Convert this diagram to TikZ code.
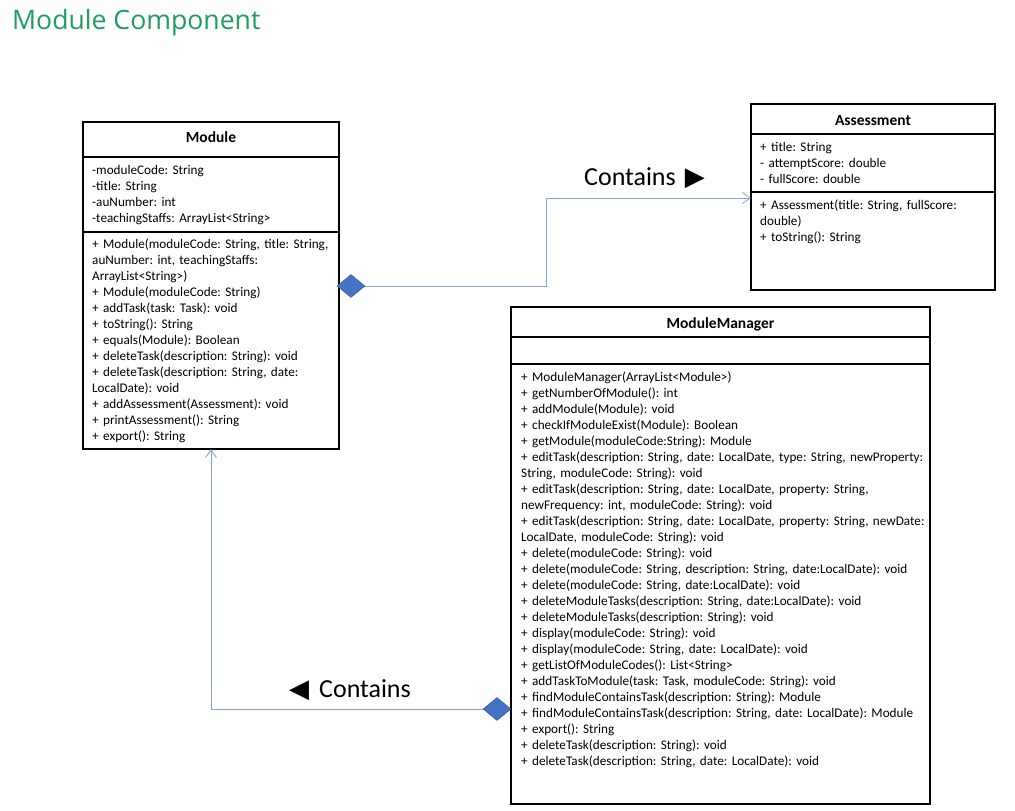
\documentclass[tikz,border=0pt]{standalone}
\usepackage{fontspec}
\setmainfont{Carlito}
\newfontfamily\headfont{Open Sans}
\newfontfamily\symfont{DejaVu Sans}
\usetikzlibrary{shapes.geometric,arrows.meta}
\definecolor{hdgreen}{RGB}{29,158,96}
\definecolor{conncol}{RGB}{130,160,218}
\definecolor{diafill}{RGB}{68,114,196}
\definecolor{diaedge}{RGB}{47,82,143}
\newcommand{\bodyfont}{\fontsize{13.2}{16}\selectfont\frenchspacing}
\begin{document}
\begin{tikzpicture}[x=1pt,y=-1pt,
 box/.style={draw, line width=1.1pt, anchor=north west, inner sep=0pt, outer sep=0pt},
 ttl/.style={anchor=base, inner sep=0pt, font=\fontsize{15.5}{17}\selectfont\bfseries},
 txt/.style={anchor=north west, inner sep=0pt, align=left, text width=420pt, font=\bodyfont},
 conn/.style={draw=conncol, line width=0.8pt},
 tip/.style={-{Straight Barb[length=8pt,width=11pt,line width=0.8pt]}},
 dia/.style={diamond, fill=diafill, draw=diaedge, line width=0.4pt, minimum width=28pt, minimum height=23pt, inner sep=0pt},
 rel/.style={anchor=base west, inner sep=0pt, font=\fontsize{26}{28}\selectfont},
]
\useasboundingbox[fill=white] (0,0) rectangle (1015,811);
\node[anchor=base west, inner sep=0pt, text=hdgreen, font=\headfont\fontsize{26.6}{30}\selectfont] (head) at (12,29) {Module Component};

% Module
\node[box, minimum width=256pt, minimum height=35pt] (modT) at (83,122) {};
\node[box, minimum width=256pt, minimum height=75pt] (modA) at (83,157) {};
\node[box, minimum width=256pt, minimum height=217pt] (modM) at (83,232) {};
\node[ttl] (modTt) at (211,142) {Module};
\node[txt] (modAt) at (92,162.8) {\strut -moduleCode: String\\-title: String\\-auNumber: int\\-teachingStaffs: ArrayList<String>};
\node[txt] (modMt) at (92,236.8) {\strut + Module(moduleCode: String, title: String,\\auNumber: int, teachingStaffs:\\ArrayList<String>)\\+ Module(moduleCode: String)\\+ addTask(task: Task): void\\+ toString(): String\\+ equals(Module): Boolean\\+ deleteTask(description: String): void\\+ deleteTask(description: String, date:\\LocalDate): void\\+ addAssessment(Assessment): void\\+ printAssessment(): String\\+ export(): String};

% Assessment
\node[box, minimum width=244pt, minimum height=30pt] (asT) at (751,104) {};
\node[box, minimum width=244pt, minimum height=58pt] (asA) at (751,134) {};
\node[box, minimum width=244pt, minimum height=98pt] (asM) at (751,192) {};
\node[ttl] (asTt) at (873,125) {Assessment};
\node[txt] (asAt) at (760,139.8) {\strut + title: String\\- attemptScore: double\\- fullScore: double};
\node[txt] (asMt) at (760,197.8) {\strut + Assessment(title: String, fullScore:\\double)\\+ toString(): String};

% ModuleManager
\node[box, minimum width=419pt, minimum height=30pt] (mmT) at (511,307) {};
\node[box, minimum width=419pt, minimum height=27pt] (mmA) at (511,337) {};
\node[box, minimum width=419pt, minimum height=440pt] (mmM) at (511,364) {};
\node[ttl] (mmTt) at (720.5,328.5) {ModuleManager};
\node[txt] (mmMt) at (521,369.8) {\strut + ModuleManager(ArrayList<Module>)\\
+ getNumberOfModule(): int\\
+ addModule(Module): void\\
+ checkIfModuleExist(Module): Boolean\\
+ getModule(moduleCode:String): Module\\
+ editTask(description: String, date: LocalDate, type: String, newProperty:\\
String, moduleCode: String): void\\
+ editTask(description: String, date: LocalDate, property: String,\\
newFrequency: int, moduleCode: String): void\\
+ editTask(description: String, date: LocalDate, property: String, newDate:\\
LocalDate, moduleCode: String): void\\
+ delete(moduleCode: String): void\\
+ delete(moduleCode: String, description: String, date:LocalDate): void\\
+ delete(moduleCode: String, date:LocalDate): void\\
+ deleteModuleTasks(description: String, date:LocalDate): void\\
+ deleteModuleTasks(description: String): void\\
+ display(moduleCode: String): void\\
+ display(moduleCode: String, date: LocalDate): void\\
+ getListOfModuleCodes(): List<String>\\
+ addTaskToModule(task: Task, moduleCode: String): void\\
+ findModuleContainsTask(description: String): Module\\
+ findModuleContainsTask(description: String, date: LocalDate): Module\\
+ export(): String\\
+ deleteTask(description: String): void\\
+ deleteTask(description: String, date: LocalDate): void};

% Connectors
\node[dia] (d1) at (351,286) {};
\coordinate (bend1) at (546,198);
\draw[conn,tip] (d1.east) -| (bend1) -- (bend1 -| asM.west);
\node[dia] (d2) at (497,709) {};
\draw[conn,tip] (d2.west) -| (modM.south);

\node[rel] (lab1) at (584,185) {Contains\hspace{9pt}{\symfont\fontsize{26}{26}\selectfont ▶}};
\node[rel] (lab2) at (289,697) {{\symfont\fontsize{26}{26}\selectfont ◀}\hspace{10pt}Contains};
\end{tikzpicture}
\end{document}
